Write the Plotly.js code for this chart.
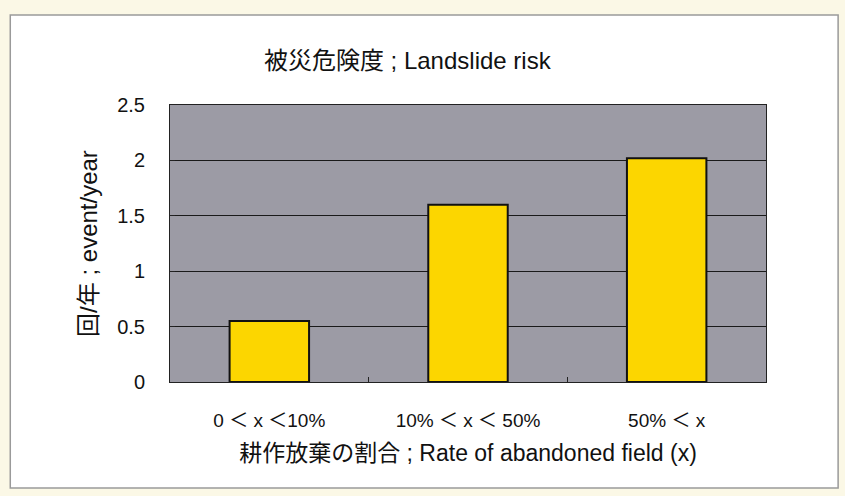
<!DOCTYPE html>
<html>
<head>
<meta charset="utf-8">
<script src="https://cdn.plot.ly/plotly-3.0.1.min.js"></script>
<style>html,body{margin:0;padding:0;background:#fbf8e6;}#chart{width:845px;height:496px;}</style>
</head>
<body>
<div id="chart"></div>
<script>
const categories = ["0 ＜ x ＜10%", "10% ＜ x ＜ 50%", "50% ＜ x"];
const values = [0.55, 1.60, 2.02];
const yTickVals = [0, 0.5, 1, 1.5, 2, 2.5];
const yTickText = ["0", "0.5", "1", "1.5", "2", "2.5"];

const FONT = '"Liberation Sans", Arial, "Noto Sans CJK JP", sans-serif';

const trace = {
  type: "bar",
  x: categories,
  y: values,
  marker: {color: "#fcd600", line: {color: "#111", width: 2}},
  width: 0.4,
  hoverinfo: "skip"
};

const layout = {
  width: 845, height: 496,
  margin: {l: 170, r: 79, t: 105, b: 114},
  paper_bgcolor: "#fbf8e6",
  plot_bgcolor: "#9c9ba5",
  showlegend: false,
  font: {family: FONT, color: "#111"},
  title: {
    text: "被災危険度 ; Landslide risk",
    font: {family: FONT, size: 24, color: "#111"},
    x: 0.482, xanchor: "center", xref: "container",
    y: 0.877, yanchor: "middle", yref: "container"
  },
  xaxis: {
    type: "category",
    showgrid: false,
    showline: true, linecolor: "#222", linewidth: 1, mirror: true,
    ticks: "inside", tickson: "boundaries", ticklen: 5, tickcolor: "#222",
    tickfont: {family: FONT, size: 19, color: "#111"},
    ticklabelstandoff: 21,
    title: {text: "耕作放棄の割合 ; Rate of abandoned field (x)", font: {family: FONT, size: 23, color: "#111"}, standoff: 15}
  },
  yaxis: {
    range: [0, 2.5],
    tickvals: yTickVals, ticktext: yTickText,
    showgrid: true, gridcolor: "#1a1a1a", gridwidth: 1,
    zeroline: false,
    showline: true, linecolor: "#222", linewidth: 1, mirror: true,
    ticks: "inside", ticklen: 5, tickcolor: "#222",
    tickfont: {family: FONT, size: 20, color: "#111"},
    ticklabelstandoff: 20,
    title: {text: "回/年 ; event/year", font: {family: FONT, size: 24, color: "#111"}, standoff: 12}
  },
  shapes: [{
    type: "rect", xref: "paper", yref: "paper", layer: "below",
    x0: -0.268, x1: 1.121, y0: -0.383, y1: 1.325,
    fillcolor: "#ffffff", line: {color: "#9a9a9a", width: 1.5}
  }, {
    type: "rect", xref: "paper", yref: "paper", layer: "below",
    x0: 0, x1: 1, y0: 0, y1: 1,
    fillcolor: "#9c9ba5", line: {width: 0}
  }]
};

Plotly.newPlot("chart", [trace], layout, {staticPlot: true, displayModeBar: false});
</script>
</body>
</html>
